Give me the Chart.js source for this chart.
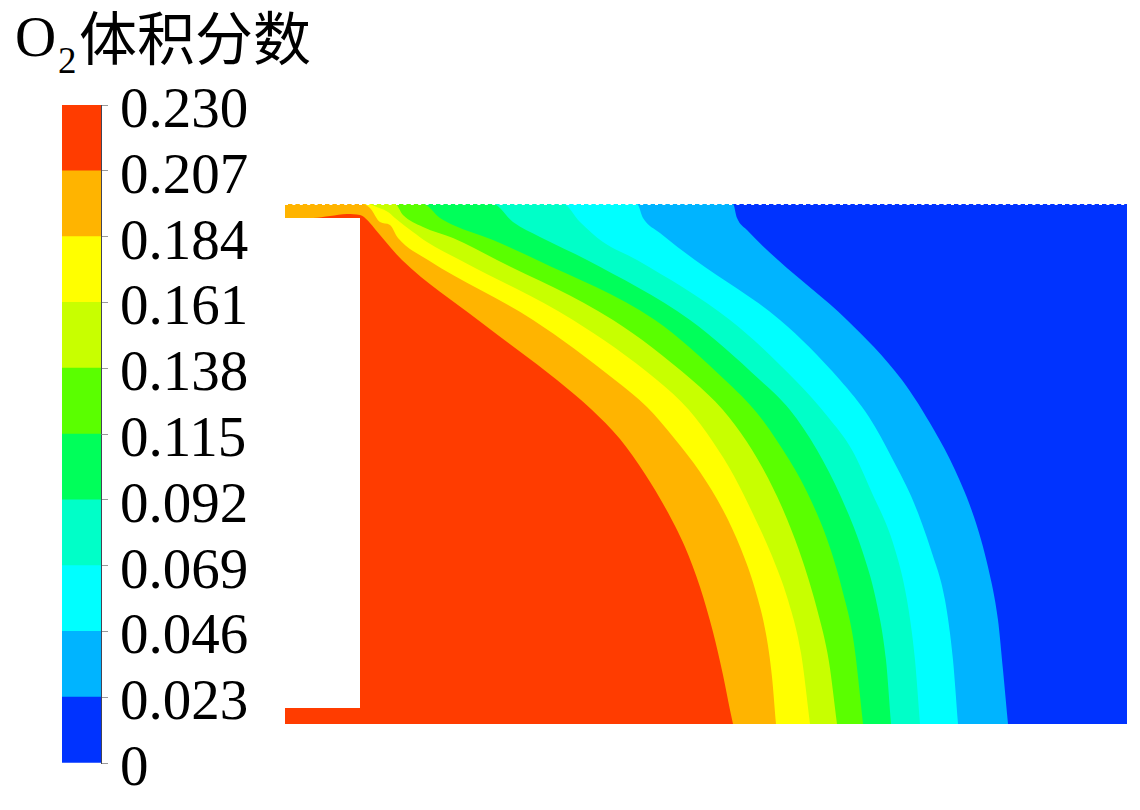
<!DOCTYPE html>
<html>
<head>
<meta charset="utf-8">
<title>O2 volume fraction</title>
<script src="https://cdn.jsdelivr.net/npm/chart.js@4/dist/chart.umd.min.js"></script>
<style>
    body { margin: 0; background: #fff; }
    canvas { position: absolute; }
    #barChart { left: 62px; top: 0; }
    #fieldChart { left: 285px; top: 200px; }
    .title { position: absolute; color: #000; line-height: 1; white-space: nowrap; }
    .latin { font-family: "Liberation Serif", serif; }
    .cjk { font-family: "Noto Sans CJK SC", sans-serif; }
</style>
</head>
<body>
<span class="title latin" style="left:15px;top:8px;font-size:57px">O</span>
<span class="title latin" style="left:58px;top:42px;font-size:37px">2</span>
<span class="title cjk" style="left:79px;top:6px;font-size:58px">体积分数</span>
<canvas id="barChart"></canvas>
<canvas id="fieldChart"></canvas>
<script>
// Colour bar
const tickValues = [0, 0.023, 0.046, 0.069, 0.092, 0.115, 0.138, 0.161, 0.184, 0.207, 0.23];
const tickLabels = ['0', '0.023', '0.046', '0.069', '0.092', '0.115', '0.138', '0.161', '0.184', '0.207', '0.230'];
const bandColors = ['#0033ff', '#00b4ff', '#00ffff', '#00ffc8', '#00ff5a', '#5aff00', '#c8ff00', '#ffff00', '#ffb400', '#ff3c00'];
const bandWidth = 0.023;

// Iso-lines of the O2 field, [x, y] from the top left corner of the domain
const domainWidth = 842;
const domainHeight = 520;
const isoSkyBlue = [[0,0],[448,0],[452,14],[462,26],[493,56],[562,116],[617,176],[649,226],[670,266],[689,313],[703,363],[713,416],[718,466],[723,520]];
const isoCyanSky = [[0,0],[352,0],[358,14],[375,29],[410,56],[495,116],[555,176],[584,213],[608,256],[629,299],[646,346],[660,396],[668,456],[673,520]];
const isoAquaCyan = [[0,0],[278,0],[295,18],[318,38],[352,56],[445,116],[510,176],[543,213],[567,246],[587,289],[608,339],[622,396],[630,456],[635,520]];
const isoSpringAqua = [[0,0],[208,0],[228,18],[255,33],[302,56],[405,116],[475,176],[505,206],[532,246],[556,293],[577,346],[591,396],[601,456],[606,520]];
const isoGreenSpring = [[0,0],[138,0],[155,14],[168,21],[208,36],[252,56],[370,116],[440,176],[472,209],[498,246],[522,288],[542,335],[557,385],[569,440],[578,520]];
const isoLimeGreen = [[0,0],[110,0],[118,11],[138,23],[168,34],[212,56],[328,116],[407,176],[438,206],[462,238],[483,274],[502,315],[518,358],[532,405],[544,458],[552,520]];
const isoYellowLime = [[0,0],[85,0],[87,1],[103,8],[110,14],[128,28],[142,38],[175,56],[288,116],[372,176],[404,206],[428,238],[449,272],[468,310],[487,352],[503,396],[516,449],[525,520]];
const isoOrangeYellow = [[0,0],[78,0],[85,4],[95,18],[105,21],[113,34],[143,56],[248,116],[330,176],[362,203],[389,234],[415,268],[438,306],[456,345],[470,385],[481,430],[487,473],[491,520]];
const isoRedOrange = [[0,14],[28,14],[45,12],[62,10],[75,11],[79,13],[95,31],[117,56],[193,116],[272,176],[306,205],[335,235],[360,270],[381,305],[400,343],[415,383],[428,428],[438,471],[445,506],[448,520]];

// Blank wall in front of the inlet
const wallTop = [[0,14],[75,14]];
const wallBottom = 504;

const toPoints = list => list.map(p => ({ x: p[0], y: p[1] }));

const barCanvas = document.getElementById('barChart');
barCanvas.width = 200;
barCanvas.height = 810;

new Chart(barCanvas, {
    type: 'bar',
    data: {
        labels: ['O2'],
        datasets: bandColors.map(color => ({
            data: [bandWidth],
            backgroundColor: color,
            borderWidth: 0,
            barPercentage: 1,
            categoryPercentage: 1
        }))
    },
    options: {
        responsive: false,
        animation: false,
        layout: { padding: { top: 105, bottom: 47 } },
        scales: {
            x: { display: false, stacked: true },
            y: {
                position: 'right',
                stacked: true,
                min: 0,
                max: 0.23,
                afterBuildTicks: axis => { axis.ticks = tickValues.map(v => ({ value: v })); },
                afterFit: axis => { axis.width = 161; },
                border: { display: true, color: '#445', width: 1 },
                grid: { drawOnChartArea: false, drawTicks: true, tickLength: 7, color: '#999' },
                ticks: {
                    autoSkip: false,
                    padding: 12,
                    labelOffset: 7,
                    color: '#000',
                    font: { family: '"Liberation Serif", serif', size: 57 },
                    callback: (value, i) => tickLabels[i]
                }
            }
        },
        plugins: { legend: { display: false }, tooltip: { enabled: false } }
    }
});

// Painted from the outside in: each band covers what is under its iso-line
const fieldLayers = [
    { points: [[0,0],[domainWidth,0]], color: bandColors[0] },
    { points: isoSkyBlue, color: bandColors[1] },
    { points: isoCyanSky, color: bandColors[2] },
    { points: isoAquaCyan, color: bandColors[3] },
    { points: isoSpringAqua, color: bandColors[4] },
    { points: isoGreenSpring, color: bandColors[5] },
    { points: isoLimeGreen, color: bandColors[6] },
    { points: isoYellowLime, color: bandColors[7] },
    { points: isoOrangeYellow, color: bandColors[8] },
    { points: isoRedOrange, color: bandColors[9] }
];

const fieldDatasets = fieldLayers.map((layer, i) => ({
    data: toPoints(layer.points),
    backgroundColor: layer.color,
    borderWidth: 0,
    pointRadius: 0,
    cubicInterpolationMode: 'monotone',
    fill: { value: domainHeight },
    order: 100 - i
}));

fieldDatasets.push({
    data: toPoints(wallTop),
    backgroundColor: '#fff',
    borderWidth: 0,
    pointRadius: 0,
    fill: { value: wallBottom },
    order: 2
});

// Dotted top boundary
fieldDatasets.push({
    data: toPoints([[0,0],[domainWidth,0]]),
    borderColor: '#fff',
    borderWidth: 2,
    borderDash: [3, 4.4],
    pointRadius: 0,
    fill: false,
    clip: false,
    order: 1
});

const fieldCanvas = document.getElementById('fieldChart');
fieldCanvas.width = 846;
fieldCanvas.height = 528;

new Chart(fieldCanvas, {
    type: 'line',
    data: { datasets: fieldDatasets },
    options: {
        responsive: false,
        animation: false,
        layout: { padding: { top: 4, bottom: 4, right: 4 } },
        scales: {
            x: { type: 'linear', display: false, min: 0, max: domainWidth },
            y: { type: 'linear', display: false, min: 0, max: domainHeight, reverse: true }
        },
        plugins: { legend: { display: false }, tooltip: { enabled: false } }
    }
});
</script>
</body>
</html>
